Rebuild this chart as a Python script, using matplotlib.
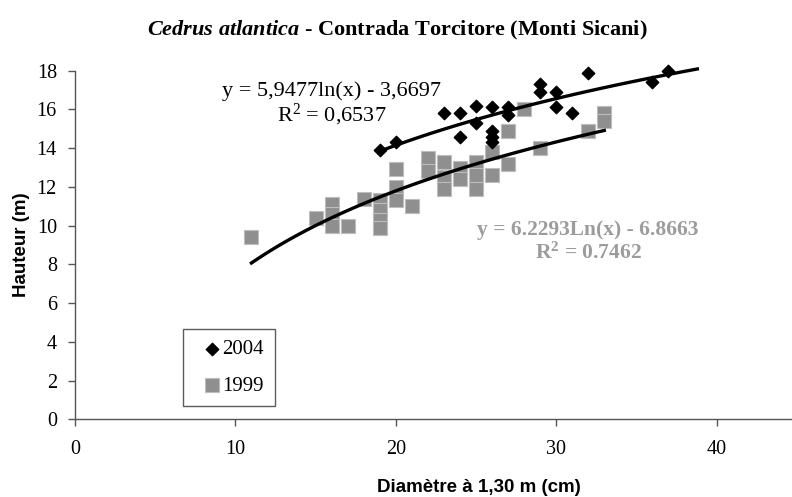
import numpy as np
import matplotlib
matplotlib.use("Agg")
import matplotlib.pyplot as plt

plt.rcParams['font.family'] = 'Liberation Serif'
plt.rcParams['mathtext.fontset'] = 'custom'
plt.rcParams['mathtext.rm'] = 'Liberation Serif'
plt.rcParams['mathtext.it'] = 'Liberation Serif:italic:bold'
plt.rcParams['mathtext.bf'] = 'Liberation Serif:bold'

# 2004 measurements (diameter cm, height m)
d2004 = [19, 20, 23, 24, 24, 25, 25, 26, 26, 26, 26, 27, 27, 29, 29, 30, 30, 31, 32, 36, 37]
h2004 = [13.9, 14.3, 15.8, 15.8, 14.6, 16.2, 15.3, 16.1, 14.9, 14.6, 14.3, 16.1, 15.7,
         17.3, 16.9, 16.9, 16.1, 15.8, 17.9, 17.4, 18.0]

# 1999 measurements
d1999 = [11, 15, 16, 16, 16, 17, 18, 19, 19, 19, 19, 20, 20, 20, 21, 22, 22,
         23, 23, 23, 24, 24, 25, 25, 25, 26, 26, 27, 27, 28, 29, 32, 33, 33]
h1999 = [9.4, 10.4, 11.1, 10.6, 10.0, 10.0, 11.4, 11.3, 10.8, 10.3, 9.9, 12.9, 12.0, 11.3,
         11.0, 13.5, 12.8, 13.3, 12.5, 11.9, 13.0, 12.4, 13.3, 12.6, 11.9, 13.8, 12.6,
         14.9, 13.2, 16.0, 14.0, 14.9, 15.8, 15.4]

# logarithmic trend coefficients
a04, b04 = 5.9477, -3.6697
a99, b99 = 6.2293, -6.8663

fig = plt.figure(figsize=(7.92, 4.97), dpi=100)
ax = fig.add_axes([75/792, 1 - 419.3/497, 717/792, 348.6/497])

ax.scatter(d1999, h1999, marker='s', s=90, color='#8f8f8f', edgecolor='#bdbdbd',
           linewidth=0.8, zorder=2, label='1999', clip_on=False)
ax.scatter(d2004, h2004, marker='D', s=40, color='black', zorder=3, label='2004',
           clip_on=False)

x04 = np.linspace(19, 38.8, 100)
x99 = np.linspace(11, 33, 100)
ax.plot(x04, a04*np.log(x04) + b04, color='black', lw=2.4, zorder=4, clip_on=False)
ax.plot(x99, a99*np.log(x99) + b99, color='black', lw=2.4, zorder=4)

ax.set_xlim(0, 717/16.04)
ax.set_ylim(0, 18)
ax.set_xticks([0, 10, 20, 30, 40])
ax.set_yticks(range(0, 19, 2))
ax.spines['top'].set_visible(False)
ax.spines['right'].set_visible(False)
for s in ['left', 'bottom']:
    ax.spines[s].set_color('#555555')
    ax.spines[s].set_linewidth(1.0)
ax.tick_params(direction='out', length=5, width=1, color='#555555', labelsize=14.5, pad=8)
ax.tick_params(axis='x', pad=10)

ax.set_xlabel('Diamètre à 1,30 m (cm)', family='Liberation Sans', fontweight='bold',
              fontsize=13.5)
ax.set_ylabel('Hauteur (m)', family='Liberation Sans', fontweight='bold',
              fontsize=13.5)
ax.xaxis.set_label_coords((479 - 75)/717, (419.3 - 488)/348.6)
ax.yaxis.set_label_coords((22 - 75)/717, 0.5)
ax.xaxis.label.set_va('center')
ax.yaxis.label.set_va('center')

fig.text(397/792, 1 - 30/497, r'$\mathit{Cedrus\ atlantica}$ - Contrada Torcitore (Monti Sicani)',
         ha='center', va='center', fontsize=16, fontweight='bold')

fig.text(332/792, 1 - 91/497, 'y = 5,9477ln(x) - 3,6697', ha='center', va='center', fontsize=16)
fig.text(332/792, 1 - 115/497, 'R$^2$ = 0,6537', ha='center', va='center', fontsize=16)
fig.text(588/792, 1 - 230/497, 'y = 6.2293Ln(x) - 6.8663', ha='center', va='center',
         fontsize=15.5, fontweight='bold', color='#9c9c9c')
fig.text(588/792, 1 - 253/497, r'R$^\mathbf{2}$ = 0.7462', ha='center', va='center',
         fontsize=15.5, fontweight='bold', color='#9c9c9c')

h, l = ax.get_legend_handles_labels()
leg = ax.legend(h[::-1], l[::-1], loc='lower left', bbox_to_anchor=(0.1506, 0.038),
                fontsize=15, frameon=True, fancybox=False, edgecolor='#333333',
                labelspacing=0.8, handletextpad=-0.4, borderpad=0.5, handlelength=1.8,
                borderaxespad=0)
leg.get_frame().set_linewidth(1.0)

fig.canvas.draw()
# widen the legend frame a little to the right, like the reference box
bb = leg.get_frame().get_bbox()
leg.get_frame().set_width(284 - bb.x0)

fig.savefig('out.png', dpi=100)
